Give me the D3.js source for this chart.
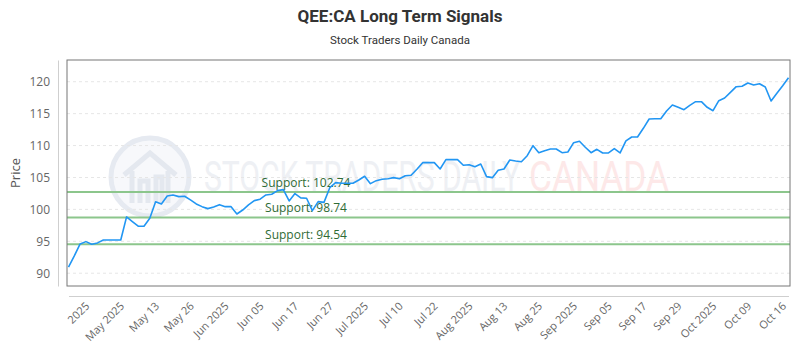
<!DOCTYPE html>
<html>
<head>
<meta charset="utf-8">
<script src="https://cdn.jsdelivr.net/npm/d3@7"></script>
<style>
    body { margin: 0; background: #fff; }
    svg { display: block; font-family: "Open Sans", sans-serif; }
</style>
</head>
<body>
<div id="graph"></div>
<script>
/*
    Data
*/
var prices = [
    90.94, 92.71, 94.59, 94.95, 94.54, 94.75, 95.2, 95.2, 95.2, 95.2,
    98.82, 98.1, 97.36, 97.36, 98.6, 101.2, 100.85, 102.1, 102.26, 102.0,
    102.05, 101.48, 100.85, 100.43, 100.12, 100.38, 100.74, 100.43, 100.43, 99.28,
    99.9,
    100.7, 101.37, 101.6, 102.26, 102.37, 102.94, 103.09, 101.32, 102.47, 101.8,
    101.74, 99.8, 101.21, 101.1, 103.4, 104.19, 104.09, 104.09, 104.09, 104.61,
    105.19, 104.03, 104.5, 104.72, 104.81, 104.97, 104.81, 105.28, 105.34, 106.28,
    107.32, 107.32, 107.32,
    106.33, 107.79, 107.79, 107.79, 106.91, 107.0, 106.69, 107.11, 105.13, 104.97,
    106.12, 106.33, 107.74, 107.58, 107.47, 108.41, 109.98, 108.88, 109.2, 109.46,
    109.46, 108.88, 108.99, 110.45, 110.67, 109.73, 108.88, 109.41, 108.84, 108.84,
    109.51,
    108.84, 110.72, 111.34, 111.34, 112.7, 114.16, 114.2, 114.2, 115.41, 116.35,
    115.99, 115.62, 116.3, 116.87, 116.87, 115.99, 115.46, 117.03, 117.45, 118.34,
    119.22, 119.28, 119.8, 119.48, 119.69, 119.17, 116.98, 118.18, 119.37, 120.63
]

var tickLabels = ["2025", "May 2025", "May 13", "May 26", "Jun 2025", "Jun 05",
    "Jun 17", "Jun 27", "Jul 2025", "Jul 10", "Jul 22", "Aug 2025", "Aug 13",
    "Aug 25", "Sep 2025", "Sep 05", "Sep 17", "Sep 29", "Oct 2025", "Oct 09", "Oct 16"]
var tickIndex = [3, 9, 15, 21, 27, 33, 39, 45, 51, 57, 63, 69, 75, 81, 87, 93,
    99, 105, 111, 117, 123]

var yTicks = [90, 95, 100, 105, 110, 115, 120]

var supports = [102.74, 98.74, 94.54]

/*
    Dimensions
*/
var margin = {top: 60, right: 10, bottom: 64, left: 67},
    width = 800 - margin.left - margin.right,
    height = 350 - margin.top - margin.bottom

var svg = d3.select("#graph").append("svg")
    .attr("width", 800)
    .attr("height", 350)

// Title and subtitle
svg.append("text")
    .attr("x", 400).attr("y", 22)
    .attr("text-anchor", "middle")
    .style("font-family", "Roboto, sans-serif")
    .style("font-size", "17px")
    .style("font-weight", "bold")
    .style("fill", "#333")
    .text("QEE:CA Long Term Signals")

svg.append("text")
    .attr("x", 400).attr("y", 44)
    .attr("text-anchor", "middle")
    .style("font-family", "Roboto, sans-serif")
    .style("font-size", "11.5px")
    .style("fill", "#333")
    .text("Stock Traders Daily Canada")

var g = svg.append("g")
    .attr("transform", "translate(" + margin.left + "," + margin.top + ")")

/*
    Scales
*/
var x = d3.scaleLinear()
    .domain([0, prices.length - 1])
    .range([1.5, width - 1.5])

var y = d3.scaleLinear()
    .domain([88, 123.4])
    .range([height, 0])

/*
    Watermark
*/
var wm = g.append("g").attr("class", "watermark")

wm.append("circle")
    .attr("cx", 150 - margin.left).attr("cy", 177 - margin.top)
    .attr("r", 39)
    .style("fill", "#f7f8fb")
    .style("stroke", "#e6eaf1")
    .style("stroke-width", 5)

wm.append("path")
    .attr("transform", "translate(" + (150 - margin.left) + "," + (177 - margin.top) + ")")
    .attr("d", "M-26,-2 L0,-24 L26,-2 M-18,-6 L-18,26 M18,-6 L18,26 M-10,26 L-10,4 L-2,4 L-2,26 M6,26 L6,0 L12,0 L12,26")
    .style("fill", "none")
    .style("stroke", "#e4e8ef")
    .style("stroke-width", 5)

var wmText = wm.append("text")
    .attr("y", 191 - margin.top)
    .style("font-family", "Roboto, sans-serif")
    .style("font-size", "42px")

wmText.append("tspan")
    .attr("x", 204 - margin.left)
    .attr("textLength", 316)
    .attr("lengthAdjust", "spacingAndGlyphs")
    .style("fill", "#eef0f4")
    .text("STOCK TRADERS DAILY")

wmText.append("tspan")
    .attr("x", 529 - margin.left)
    .attr("textLength", 140)
    .attr("lengthAdjust", "spacingAndGlyphs")
    .style("fill", "#fde8e8")
    .text("CANADA")

/*
    Grid
*/
g.append("g")
    .selectAll("line")
    .data(yTicks)
    .enter().append("line")
    .attr("x1", 0).attr("x2", width)
    .attr("y1", function(d) { return y(d) })
    .attr("y2", function(d) { return y(d) })
    .style("stroke", "#e6e6e6")
    .style("stroke-dasharray", "3,3")

/*
    Axes
*/
var yAxis = g.append("g")
    .attr("class", "y axis")
    .attr("transform", "translate(-9,0)")
    .call(d3.axisLeft(y).tickValues(yTicks).tickSize(0).tickPadding(8))

yAxis.select(".domain").style("stroke", "#cfcfcf")
yAxis.selectAll("text")
    .style("font-size", "12px")
    .style("fill", "#666")
    .style("font-family", "'Open Sans', sans-serif")

g.append("text")
    .attr("transform", "translate(" + (15 - margin.left) + "," + (height / 2) + ") rotate(-90)")
    .attr("text-anchor", "middle")
    .attr("dy", "0.35em")
    .style("font-size", "13px")
    .style("fill", "#555")
    .text("Price")

var xAxis = g.append("g")
    .attr("class", "x axis")
    .attr("transform", "translate(0," + (height + 10) + ")")
    .call(d3.axisBottom(x)
        .tickValues(tickIndex)
        .tickFormat(function(d, i) { return tickLabels[i] })
        .tickSize(0))

xAxis.select(".domain").style("stroke", "#cfcfcf")
xAxis.selectAll("text")
    .attr("x", 0).attr("y", 0)
    .attr("dy", "0.35em")
    .attr("transform", "translate(1,8) rotate(-45)")
    .style("text-anchor", "end")
    .style("font-size", "11px")
    .style("fill", "#666")
    .style("font-family", "'Open Sans', sans-serif")

/*
    Support lines
*/
g.append("g")
    .selectAll("line")
    .data(supports)
    .enter().append("line")
    .attr("x1", 0).attr("x2", width)
    .attr("y1", function(d) { return y(d) })
    .attr("y2", function(d) { return y(d) })
    .style("stroke", "#8cc68c")
    .style("stroke-width", 2)

g.append("g")
    .selectAll("text")
    .data(supports)
    .enter().append("text")
    .attr("x", 306 - margin.left)
    .attr("y", function(d) { return y(d) - 5 })
    .attr("text-anchor", "middle")
    .style("font-size", "12px")
    .style("fill", "#2f6b35")
    .text(function(d) { return "Support: " + d.toFixed(2) })

/*
    Price line
*/
var line = d3.line()
    .x(function(d, i) { return x(i) })
    .y(function(d) { return y(d) })

g.append("path")
    .datum(prices)
    .attr("d", line)
    .style("fill", "none")
    .style("stroke", "#2196f3")
    .style("stroke-width", 1.6)
    .style("stroke-linejoin", "round")

// Plot frame
g.append("rect")
    .attr("x", 0).attr("y", 0)
    .attr("width", width).attr("height", height)
    .style("fill", "none")
    .style("stroke", "#777")
    .style("stroke-width", 1)
</script>
</body>
</html>
